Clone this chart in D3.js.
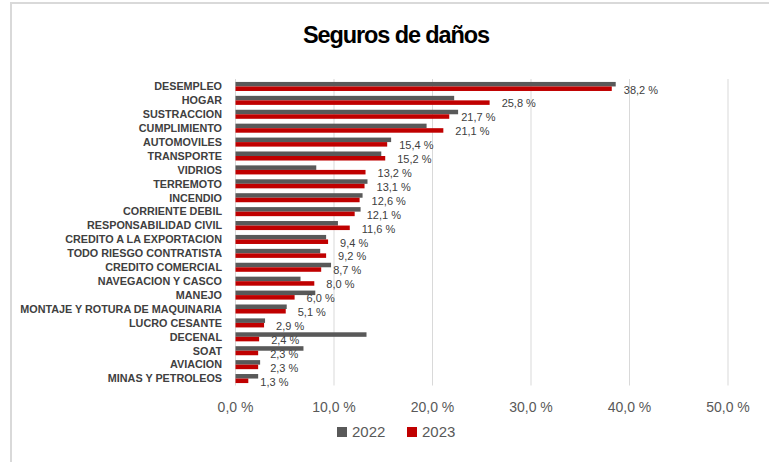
<!DOCTYPE html>
<html lang="es">
<head>
<meta charset="UTF-8">
<title>Seguros de daños</title>
<style>
  body { margin: 0; background: #fff; }
  svg { display: block; }
  .cat { font-family: "Liberation Sans", Arial, sans-serif; font-weight: bold; font-size: 10.8px; fill: #404040; }
  .val { font-family: "Liberation Sans", Arial, sans-serif; font-size: 11px; fill: #404040; }
  .tick-lbl { font-family: "Liberation Sans", Arial, sans-serif; font-size: 14px; fill: #595959; }
  .leg { font-family: "Liberation Sans", Arial, sans-serif; font-size: 15px; fill: #595959; }
  .title { font-family: "Liberation Sans", Arial, sans-serif; font-weight: bold; font-size: 23.5px; fill: #000; letter-spacing: -1.1px; }
</style>
</head>
<body>
<div id="chart"></div>
<script src="https://cdn.jsdelivr.net/npm/d3@7"></script>
<script>
// data
var categories = ["DESEMPLEO", "HOGAR", "SUSTRACCION", "CUMPLIMIENTO", "AUTOMOVILES", "TRANSPORTE",
  "VIDRIOS", "TERREMOTO", "INCENDIO", "CORRIENTE DEBIL", "RESPONSABILIDAD CIVIL",
  "CREDITO A LA EXPORTACION", "TODO RIESGO CONTRATISTA", "CREDITO COMERCIAL",
  "NAVEGACION Y CASCO", "MANEJO", "MONTAJE Y ROTURA DE MAQUINARIA", "LUCRO CESANTE",
  "DECENAL", "SOAT", "AVIACION", "MINAS Y PETROLEOS"];
var values2022 = [38.6, 22.2, 22.6, 19.4, 15.8, 14.8, 8.2, 13.4, 12.9, 12.7, 10.4,
  9.2, 8.6, 9.7, 6.6, 8.1, 5.2, 3.0, 13.3, 6.9, 2.5, 2.3];
var values2023 = [38.2, 25.8, 21.7, 21.1, 15.4, 15.2, 13.2, 13.1, 12.6, 12.1, 11.6,
  9.4, 9.2, 8.7, 8.0, 6.0, 5.1, 2.9, 2.4, 2.3, 2.3, 1.3];
var seriesNames = ["2022", "2023"];
var seriesColors = ["#595959", "#c00000"];
var ticks = [0, 10, 20, 30, 40, 50];

var W = 769, H = 462;
var fmt = function (v) { return v.toFixed(1).replace(".", ",") + " %"; };

var svg = d3.select("#chart").append("svg")
  .attr("width", W)
  .attr("height", H);

// chart frame (only left and top edges are visible)
svg.append("line").attr("x1", 11).attr("x2", 11).attr("y1", 2).attr("y2", H)
  .attr("stroke", "#d9d9d9").attr("stroke-width", 2);
svg.append("line").attr("x1", 10).attr("x2", W).attr("y1", 3).attr("y2", 3)
  .attr("stroke", "#d9d9d9").attr("stroke-width", 2);

svg.append("text").attr("class", "title")
  .attr("x", 396).attr("y", 43)
  .attr("text-anchor", "middle")
  .text("Seguros de daños");

var x = d3.scaleLinear().domain([0, 50]).range([235.5, 728]);

var y0 = d3.scaleBand().domain(categories).range([79.5, 385.5])
  .paddingInner(0.35).paddingOuter(0.175);
var y1 = d3.scaleBand().domain(seriesNames).range([0, y0.bandwidth()]);

// gridlines
svg.append("g").selectAll("line")
  .data(ticks).enter().append("line")
  .attr("x1", function (d) { return x(d); })
  .attr("x2", function (d) { return x(d); })
  .attr("y1", 79).attr("y2", 385.5)
  .attr("stroke", "#d9d9d9").attr("stroke-width", 1);

svg.append("g").selectAll("text")
  .data(ticks).enter().append("text")
  .attr("class", "tick-lbl")
  .attr("x", function (d) { return x(d); })
  .attr("y", 407)
  .attr("dy", "0.35em")
  .attr("text-anchor", "middle")
  .text(fmt);

var rows = categories.map(function (c, i) {
  return { cat: c, vals: [values2022[i], values2023[i]] };
});

var groups = svg.append("g").selectAll("g")
  .data(rows).enter().append("g")
  .attr("transform", function (d) { return "translate(0," + y0(d.cat) + ")"; });

groups.selectAll("rect")
  .data(function (d) { return d.vals.map(function (v, k) { return { s: seriesNames[k], v: v, k: k }; }); })
  .enter().append("rect")
  .attr("x", x(0))
  .attr("y", function (d) { return y1(d.s); })
  .attr("width", function (d) { return x(d.v) - x(0); })
  .attr("height", y1.bandwidth())
  .attr("fill", function (d) { return seriesColors[d.k]; });

groups.append("text")
  .attr("class", "cat")
  .attr("x", 222)
  .attr("y", y0.bandwidth() / 2)
  .attr("dy", "0.35em")
  .attr("text-anchor", "end")
  .text(function (d) { return d.cat; });

groups.append("text")
  .attr("class", "val")
  .attr("x", function (d) { return x(d.vals[1]) + 12; })
  .attr("y", y1("2023") + y1.bandwidth() / 2 + 1)
  .attr("dy", "0.35em")
  .text(function (d) { return fmt(d.vals[1]); });

// legend
var leg = svg.append("g").attr("transform", "translate(337,432)");
var legItems = leg.selectAll("g")
  .data(seriesNames).enter().append("g")
  .attr("transform", function (d, i) { return "translate(" + (i * 70) + ",0)"; });
legItems.append("rect")
  .attr("x", 0).attr("y", -5).attr("width", 10).attr("height", 10)
  .attr("fill", function (d, i) { return seriesColors[i]; });
legItems.append("text")
  .attr("class", "leg")
  .attr("x", 15).attr("y", 0).attr("dy", "0.35em")
  .text(function (d) { return d; });
</script>
</body>
</html>
